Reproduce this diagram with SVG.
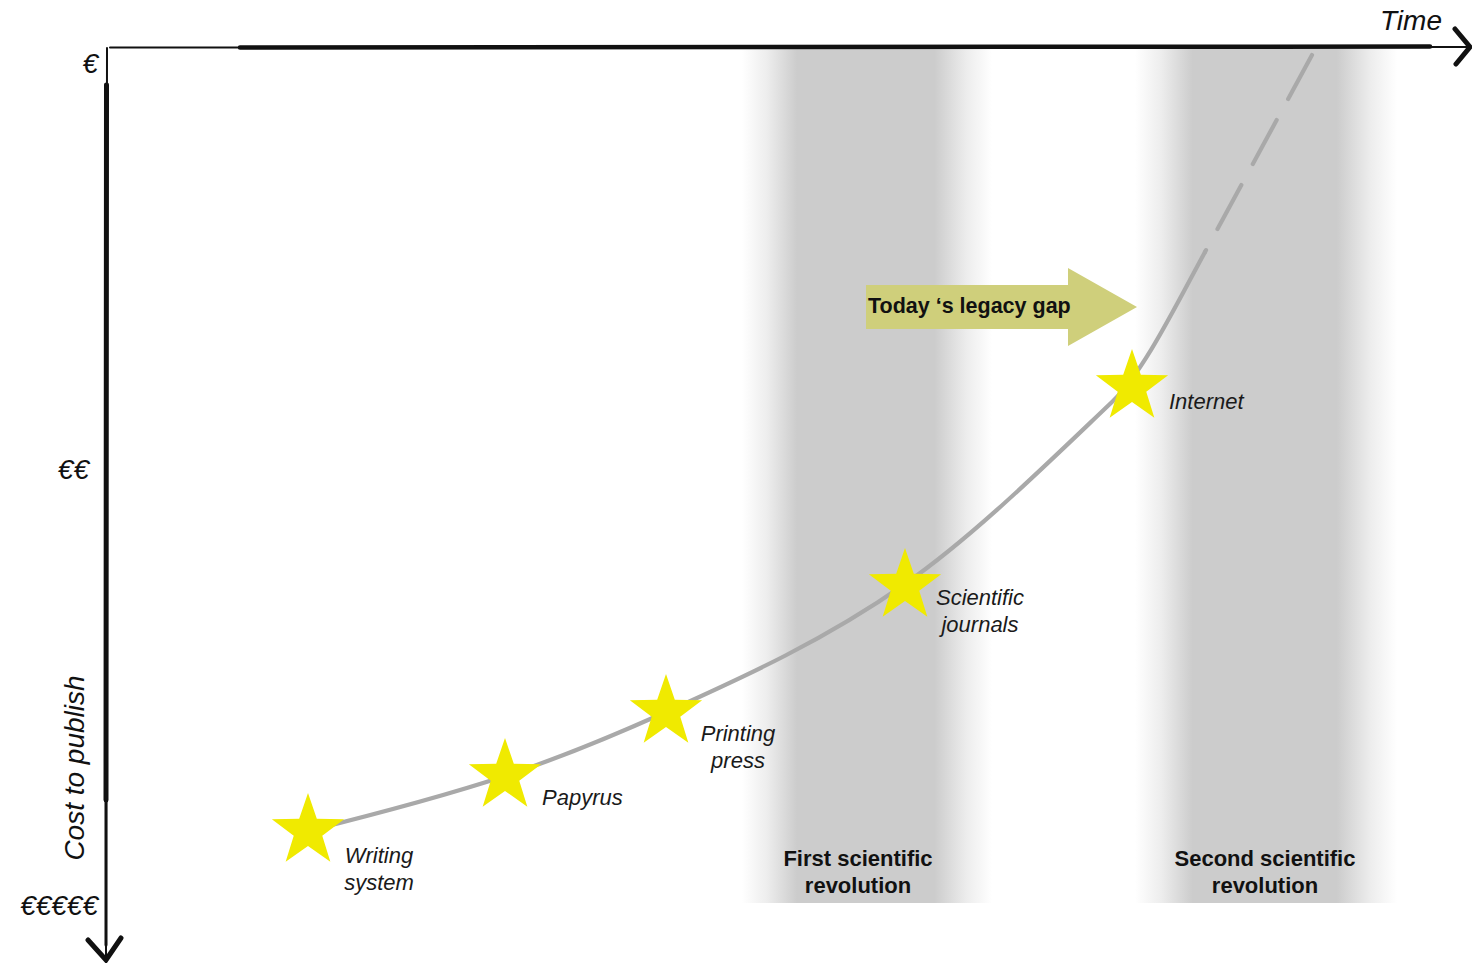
<svg xmlns="http://www.w3.org/2000/svg" width="1472" height="963" viewBox="0 0 1472 963">
<style>
.it{font-family:"Liberation Sans",Arial,sans-serif;font-style:italic;font-size:22px;fill:#1a1a1a}
.ax{font-family:"Liberation Sans",Arial,sans-serif;font-style:italic;font-size:28px;fill:#111}
.bd{font-family:"Liberation Sans",Arial,sans-serif;font-weight:bold;font-size:22px;fill:#111;text-anchor:middle}
.star{fill:#F0EA00}
.axis{fill:none;stroke:#111;stroke-linecap:round}
.curve{fill:none;stroke:#a9a9a9;stroke-width:4.2;stroke-linecap:round}
</style>
<defs>
<linearGradient id="band1" x1="0" y1="0" x2="1" y2="0">
<stop offset="0" stop-color="#cccccc" stop-opacity="0"/>
<stop offset="0.1" stop-color="#cccccc" stop-opacity="0.35"/>
<stop offset="0.22" stop-color="#cccccc"/>
<stop offset="0.77" stop-color="#cccccc"/>
<stop offset="0.9" stop-color="#cccccc" stop-opacity="0.35"/>
<stop offset="1" stop-color="#cccccc" stop-opacity="0"/>
</linearGradient>
<path id="st" d="M0,-38 L8.82,-12.14 L36.14,-11.74 L14.27,4.64 L22.34,30.74 L0,15 L-22.34,30.74 L-14.27,4.64 L-36.14,-11.74 L-8.82,-12.14 Z"/>
</defs>
<rect width="1472" height="963" fill="#ffffff"/>
<g id="band-first">
<rect x="742" y="49" width="250" height="854" fill="url(#band1)"/>
<text class="bd" x="858" y="866">First scientific</text>
<text class="bd" x="858" y="893">revolution</text>
</g>
<g id="band-second">
<rect x="1135" y="49" width="262" height="854" fill="url(#band1)"/>
<text class="bd" x="1265" y="866">Second scientific</text>
<text class="bd" x="1265" y="893">revolution</text>
</g>
<g id="axes">
<path class="axis" d="M110,47.5 L1468,47" stroke-width="2"/>
<path class="axis" d="M240,47.5 L1430,46.5" stroke-width="4.5"/>
<path class="axis" d="M1455,29 L1470,47 L1456,64" stroke-width="5" stroke-linejoin="miter"/>
<path class="axis" d="M107,48 L106,957" stroke-width="2"/>
<path class="axis" d="M106.5,85 L106,800" stroke-width="5"/>
<path class="axis" d="M106,790 L106,945" stroke-width="3"/>
<path class="axis" d="M88,940 L106,960 L121,938" stroke-width="5" stroke-linejoin="miter"/>
<text class="ax" x="98" y="73" text-anchor="end">€</text>
<text class="ax" x="89" y="479" text-anchor="end">€€</text>
<text class="ax" x="98" y="915" text-anchor="end">€€€€€</text>
<text class="ax" x="1380" y="30">Time</text>
<text class="ax" transform="translate(84,768) rotate(-90)" text-anchor="middle">Cost to publish</text>
</g>
<g id="connectors">
<path class="curve" d="M308,831 C374,814.5 439,797.8 505,776 C559,758.2 612,736.3 666,712 C746,676 825,640 905,584 C974,535.7 1043,467.6 1112,402 C1143,372.5 1174,309 1205,252"/>
<path class="curve" d="M1312,55 L1205,252" stroke-dasharray="50 24" stroke-linecap="butt"/>
</g>
<g id="legacy-gap">
<path d="M866,285 L1068,285 L1068,268 L1137,307 L1068,346 L1068,329 L866,329 Z" fill="#CFCF7B"/>
<text x="868" y="313" style="font-family:'Liberation Sans',Arial,sans-serif;font-weight:bold;font-size:21.5px;fill:#111">Today ‘s legacy gap</text>
</g>
<g id="node-writing">
<use href="#st" x="308" y="831" class="star"/>
<text class="it" x="379" y="863" text-anchor="middle">Writing</text>
<text class="it" x="379" y="890" text-anchor="middle">system</text>
</g>
<g id="node-papyrus">
<use href="#st" x="505" y="776" class="star"/>
<text class="it" x="542" y="805">Papyrus</text>
</g>
<g id="node-printing">
<use href="#st" x="666" y="712" class="star"/>
<text class="it" x="738" y="741" text-anchor="middle">Printing</text>
<text class="it" x="738" y="768" text-anchor="middle">press</text>
</g>
<g id="node-journals">
<use href="#st" x="905" y="586" class="star"/>
<text class="it" x="980" y="605" text-anchor="middle">Scientific</text>
<text class="it" x="980" y="632" text-anchor="middle">journals</text>
</g>
<g id="node-internet">
<use href="#st" x="1132" y="387" class="star"/>
<text class="it" x="1169" y="409">Internet</text>
</g>
</svg>
